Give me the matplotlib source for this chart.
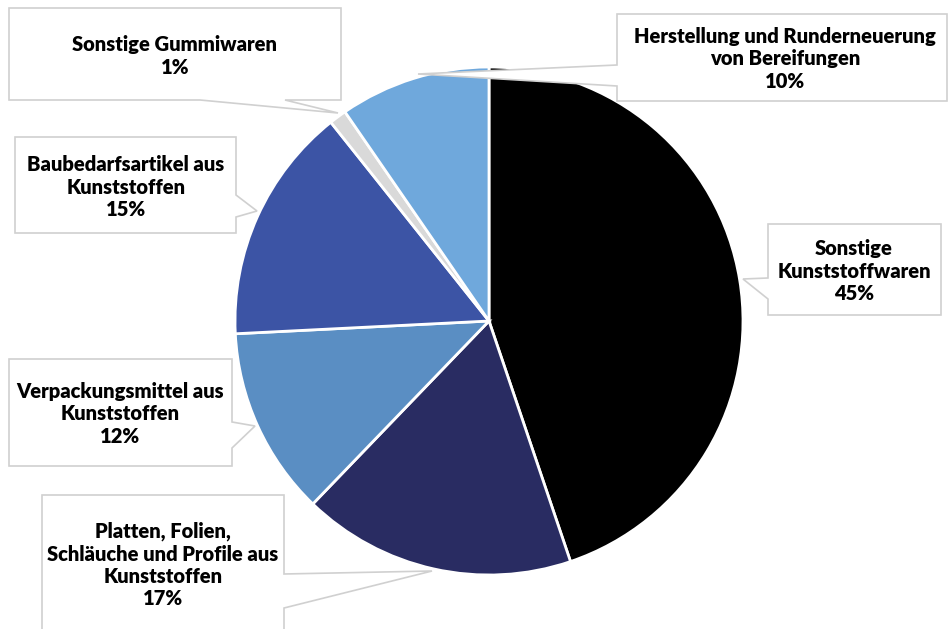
import matplotlib
matplotlib.use("Agg")
import matplotlib.pyplot as plt
from matplotlib.patches import Polygon

# shares of the segments (clockwise from 12 o'clock)
categories = [
    "Sonstige\nKunststoffwaren",
    "Platten, Folien,\nSchläuche und Profile aus\nKunststoffen",
    "Verpackungsmittel aus\nKunststoffen",
    "Baubedarfsartikel aus\nKunststoffen",
    "Sonstige Gummiwaren",
    "Herstellung und Runderneuerung\nvon Bereifungen",
]
shares = [44.8, 17.4, 12.0, 15.1, 1.1, 9.6]
colors = ["#000000", "#292c62", "#5a8ec3", "#3c54a5", "#d9d9d9", "#6fa8dc"]

W, H = 948, 629

# callout layout in pixel coords (y down): box, side with pointer, pointer base, tip, text centre
callouts = [
    dict(box=(768, 224, 941, 315), side="left", base=(278, 299), tip=(743, 279), text=(854, 271)),
    dict(box=(42, 495, 284, 660), side="right", base=(574, 608), tip=(432, 571), text=(163, 565)),
    dict(box=(9, 359, 232, 466), side="right", base=(422, 448), tip=(255, 426), text=(120, 414)),
    dict(box=(15, 137, 236, 233), side="right", base=(195, 217), tip=(257, 211), text=(126, 187)),
    dict(box=(9, 8, 341, 100), side="bottom", base=(200, 285), tip=(338, 113), text=(175, 56)),
    dict(box=(617, 14, 947, 101), side="left", base=(65, 86), tip=(418, 74), text=(785, 59)),
]


def callout_outline(box, side, base, tip):
    x0, y0, x1, y1 = box
    b0, b1 = base
    if side == "left":
        pts = [(x0, y0), (x1, y0), (x1, y1), (x0, y1), (x0, b1), tip, (x0, b0)]
    elif side == "right":
        pts = [(x0, y0), (x1, y0), (x1, b0), tip, (x1, b1), (x1, y1), (x0, y1)]
    else:
        pts = [(x0, y0), (x1, y0), (x1, y1), (b1, y1), tip, (b0, y1), (x0, y1)]
    return [(x, H - y) for x, y in pts]


fig = plt.figure(figsize=(W / 100, H / 100), dpi=100)
ax = fig.add_axes([0, 0, 1, 1])

ax.pie(
    shares,
    colors=colors,
    startangle=90,
    counterclock=False,
    center=(489, H - 321),
    radius=254,
    frame=True,
    wedgeprops=dict(edgecolor="white", linewidth=2.0),
)

for cat, val, c in zip(categories, shares, callouts):
    poly = Polygon(callout_outline(c["box"], c["side"], c["base"], c["tip"]),
                   closed=True, facecolor="white", edgecolor="#d0d0d0",
                   linewidth=1.2, zorder=3)
    ax.add_patch(poly)
    tx, ty = c["text"]
    ax.text(tx, H - ty, f"{cat}\n{val:.0f}%", ha="center", va="center",
            fontsize=14.5, fontweight=800, family=["Lato", "DejaVu Sans"],
            linespacing=1.2, zorder=4)

ax.set_xlim(0, W)
ax.set_ylim(0, H)
ax.set_axis_off()

fig.savefig("out.png", dpi=100)
